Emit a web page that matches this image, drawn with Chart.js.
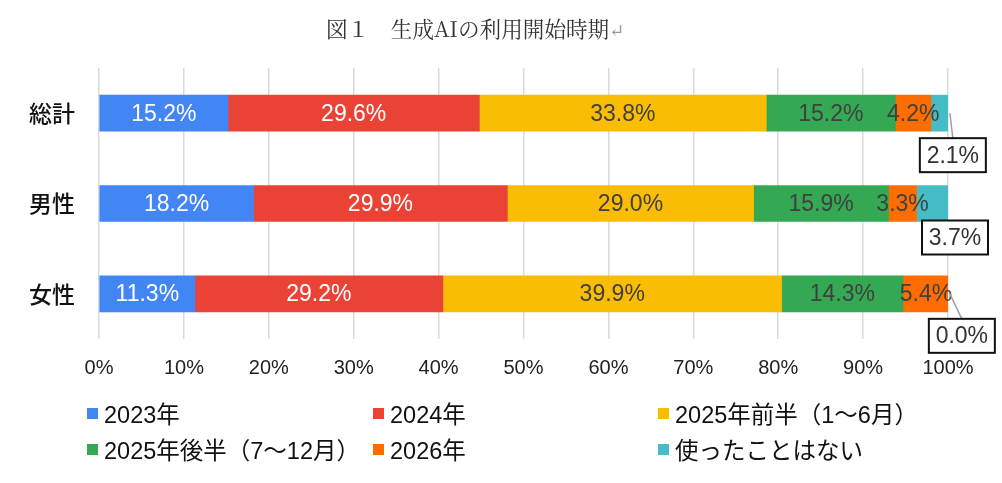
<!DOCTYPE html>
<html lang="ja">
  <head>
    <meta charset="UTF-8" />
    <title>図１ 生成AIの利用開始時期</title>
    <script src="https://cdn.jsdelivr.net/npm/chart.js"></script>
    <style>
      body { margin: 0; background: #fff; }
      #wrap { position: relative; width: 1002px; height: 483px; }
      #title {
        position: absolute; left: 326px; top: 12px;
        font: 21.6px "Noto Serif CJK JP", "DejaVu Serif", "Noto Sans CJK JP", serif;
        color: #333; white-space: pre;
      }
      #title .mark { color: #999; font-size: 18px; }
      #legend { position: absolute; left: 0; top: 0; }
      .item {
        position: absolute; display: flex; align-items: center;
        font: 23.5px "Liberation Sans", "Noto Sans CJK JP", sans-serif;
        color: #111; white-space: nowrap;
      }
      .item span.box { width: 11px; height: 11px; margin-right: 6px; display: inline-block; }
    </style>
  </head>
  <body>
    <div id="wrap">
      <canvas id="myChart" width="1002" height="483"></canvas>
      <div id="title">図１　生成AIの利用開始時期<span class="mark">↵</span></div>
      <div id="legend"></div>
    </div>
    <script>
      // 各区分の割合(%)
      const categories = ["総計", "男性", "女性"];
      const seriesNames = [
        "2023年",
        "2024年",
        "2025年前半（1～6月）",
        "2025年後半（7～12月）",
        "2026年",
        "使ったことはない",
      ];
      const y2023 = [15.2, 18.2, 11.3];
      const y2024 = [29.6, 29.9, 29.2];
      const y2025a = [33.8, 29.0, 39.9];
      const y2025b = [15.2, 15.9, 14.3];
      const y2026 = [4.2, 3.3, 5.4];
      const never = [2.1, 3.7, 0.0];
      const xTicks = [0, 10, 20, 30, 40, 50, 60, 70, 80, 90, 100];

      const colors = ["#4285F4", "#EA4335", "#FBBC04", "#34A853", "#FF6D01", "#46BDC6"];
      const labelColors = ["#fff", "#fff", "#404040", "#404040", "#404040", "#333"];
      const allSeries = [y2023, y2024, y2025a, y2025b, y2026, never];

      // callout box offsets for the last series (dx from bar end, dy from bar bottom)
      const calloutOffsets = [[-29, 7], [-26, -1], [-20, 7]];
      const calloutLeader = [true, false, true];

      const valueLabels = {
        id: "valueLabels",
        afterDatasetsDraw(chart) {
          const ctx = chart.ctx;
          ctx.save();
          ctx.font = '23px "Liberation Sans", Arial, sans-serif';
          ctx.textAlign = "center";
          ctx.textBaseline = "middle";
          const last = chart.data.datasets.length - 1;
          chart.data.datasets.forEach((ds, i) => {
            const meta = chart.getDatasetMeta(i);
            meta.data.forEach((bar, j) => {
              const p = bar.getProps(["x", "y", "base", "height"], true);
              const text = ds.data[j].toFixed(1) + "%";
              if (i < last) {
                ctx.fillStyle = labelColors[i];
                ctx.fillText(text, (p.x + p.base) / 2, p.y + 1);
              } else {
                const w = 66, h = 34;
                const bx = p.x + calloutOffsets[j][0];
                const by = p.y + p.height / 2 + calloutOffsets[j][1];
                if (calloutLeader[j]) {
                  ctx.strokeStyle = "#a0a0a0";
                  ctx.lineWidth = 1.5;
                  ctx.beginPath();
                  ctx.moveTo(p.x + 1, p.y);
                  ctx.lineTo(bx + w / 2, by);
                  ctx.stroke();
                }
                ctx.fillStyle = "#fff";
                ctx.fillRect(bx, by, w, h);
                ctx.strokeStyle = "#111";
                ctx.lineWidth = 2;
                ctx.strokeRect(bx, by, w, h);
                ctx.fillStyle = "#333";
                ctx.fillText(text, bx + w / 2, by + h / 2 + 1);
              }
            });
          });
          ctx.restore();
        },
      };

      new Chart(document.getElementById("myChart"), {
        type: "bar",
        data: {
          labels: categories,
          datasets: seriesNames.map((name, i) => ({
            label: name,
            data: allSeries[i],
            backgroundColor: colors[i],
            borderWidth: 0,
            barThickness: 36,
          })),
        },
        options: {
          indexAxis: "y",
          responsive: false,
          animation: false,
          layout: { padding: { left: 0, right: 54, top: 68, bottom: 94 } },
          plugins: { legend: { display: false }, tooltip: { enabled: false } },
          scales: {
            x: {
              stacked: true,
              min: 0,
              max: 100,
              afterBuildTicks(scale) {
                scale.ticks = xTicks.map((v) => ({ value: v }));
              },
              afterFit(scale) {
                scale.height = 50;
              },
              ticks: {
                callback: (v) => v + "%",
                color: "#222",
                padding: 17,
                font: { family: '"Liberation Sans", Arial, sans-serif', size: 20 },
              },
              grid: { color: "#d9d9d9", lineWidth: 1.5, drawTicks: false },
              border: { display: false },
            },
            y: {
              stacked: true,
              afterFit(scale) {
                scale.width = 99;
              },
              ticks: {
                color: "#111",
                padding: 24,
                font: { family: '"Noto Sans CJK JP", sans-serif', size: 23, weight: "500" },
              },
              grid: { display: false, drawTicks: false },
              border: { display: false },
            },
          },
        },
        plugins: [valueLabels],
      });

      // legend: 3 columns x 2 rows
      const legendCols = [87, 373, 658];
      const legendRows = [412, 448];
      const legend = document.getElementById("legend");
      seriesNames.forEach((name, i) => {
        const el = document.createElement("div");
        el.className = "item";
        el.style.left = legendCols[i % 3] + "px";
        el.style.top = legendRows[Math.floor(i / 3)] - 16 + "px";
        el.innerHTML = '<span class="box" style="background:' + colors[i] + '"></span>' + name;
        legend.appendChild(el);
      });
    </script>
  </body>
</html>
